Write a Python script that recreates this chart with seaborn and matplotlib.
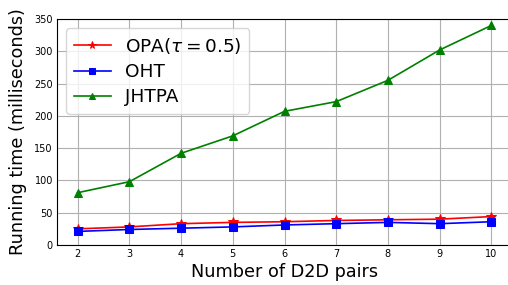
import matplotlib
matplotlib.use("Agg")
import matplotlib.pyplot as plt
import seaborn as sns
import pandas as pd

pairs = [2, 3, 4, 5, 6, 7, 8, 9, 10]
opa = [25, 28, 33, 35, 36, 38, 39, 40, 44]
oht = [21, 24, 26, 28, 31, 33, 35, 33, 36]
jhtpa = [81, 98, 142, 169, 207, 222, 255, 302, 340]
labels = [r"OPA($\tau=0.5$)", "OHT", "JHTPA"]

plt.rcParams['font.family'] = ['DejaVu Sans']
fig = plt.figure(figsize=(5.08, 2.85), dpi=100)
ax = fig.add_axes([0.1122, 0.1404, 0.8957, 0.793])

series = [(opa, 'red', '*', 7), (oht, 'blue', 's', 6), (jhtpa, 'green', '^', 6)]
for (vals, col, mk, ms), lab in zip(series, labels):
    df = pd.DataFrame({"x": pairs, "y": vals})
    sns.lineplot(data=df, x="x", y="y", ax=ax, color=col, marker=mk,
                 markersize=ms, markeredgecolor=col, linewidth=1.2, label=lab)

ax.set_xlim(1.6, 10.4)
ax.set_ylim(0, 350)
ax.set_xticks(pairs)
ax.set_yticks(range(0, 351, 50))
ax.tick_params(labelsize=7, length=0, pad=3)
ax.grid(True, color='#b0b0b0', linewidth=0.8)
ax.set_xlabel("Number of D2D pairs", fontsize=12.7, labelpad=3)
ax.set_ylabel("Running time (milliseconds)", fontsize=12.7, labelpad=5)
ax.legend(loc='upper left', fontsize=13.3, handlelength=2.0, markerscale=0.8,
          labelspacing=0.4)
fig.savefig("out.png", dpi=100)
